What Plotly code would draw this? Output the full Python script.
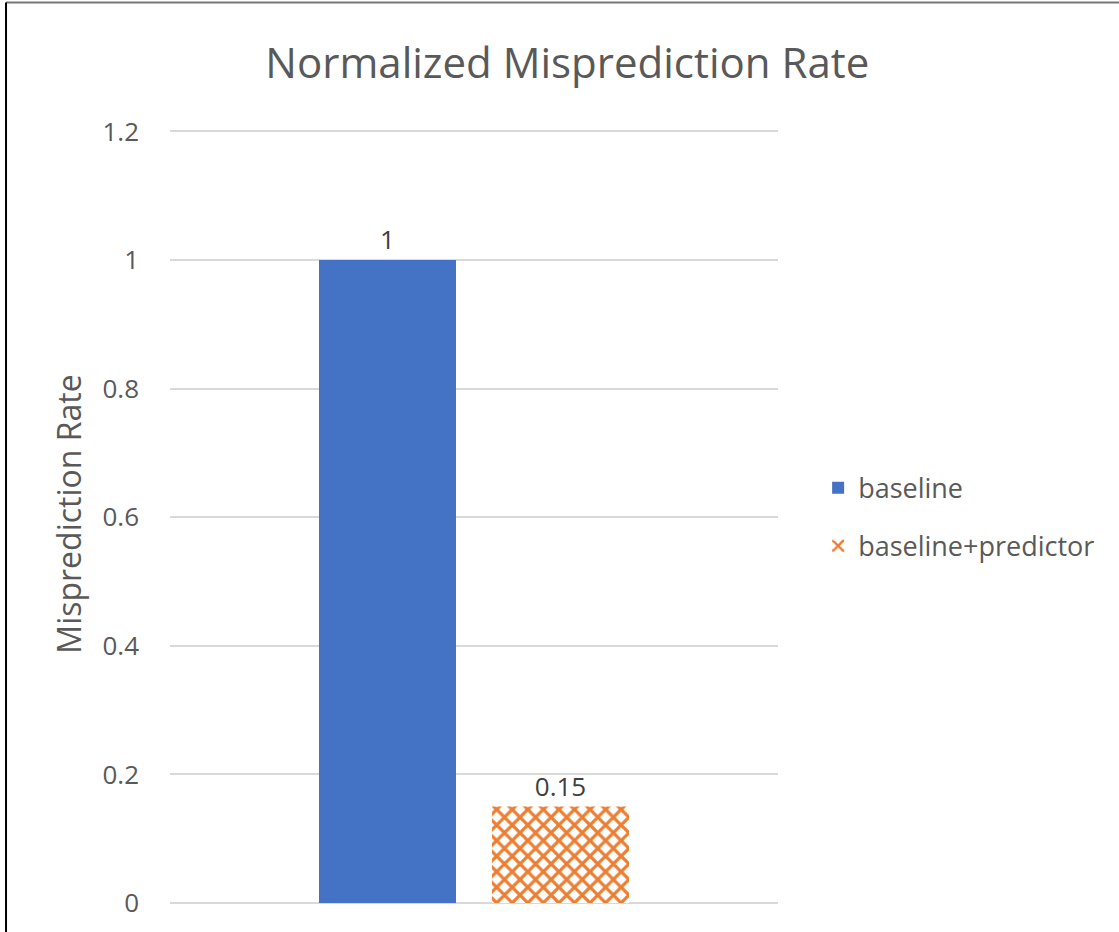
import plotly.graph_objects as go

categories = [""]
series_names = ["baseline", "baseline+predictor"]
baseline_values = [1.0]
predictor_values = [0.15]
tick_values = [0, 0.2, 0.4, 0.6, 0.8, 1.0, 1.2]
tick_labels = ["0", "0.2", "0.4", "0.6", "0.8", "1", "1.2"]

FONT = "Open Sans"
GREY = "#595959"

fig = go.Figure()
fig.add_trace(go.Bar(
    x=categories, y=baseline_values, name=series_names[0], legendgroup="a",
    marker=dict(color="#4472C4", line=dict(width=0)),
    text=["1"], textposition="outside", cliponaxis=False,
    textfont=dict(family=FONT, size=26, color="#404040"),
))
fig.add_trace(go.Bar(
    x=categories, y=predictor_values, name=series_names[1], legendgroup="b",
    marker=dict(color="white", line=dict(width=0),
                pattern=dict(shape="x", fgcolor="#ED7D31", bgcolor="white",
                             fgopacity=1, size=11, solidity=0.5, fillmode="replace")),
    text=["0.15"], textposition="outside", cliponaxis=False,
    textfont=dict(family=FONT, size=26, color="#404040"),
))

fig.update_layout(
    width=1119, height=932,
    paper_bgcolor="white", plot_bgcolor="white",
    margin=dict(l=170, r=341, t=125, b=29),
    barmode="group", bargap=0.431, bargroupgap=0.208,
    title=dict(text="Normalized Misprediction Rate", x=0.507, xref="container",
               xanchor="center", y=0.932, yref="container", yanchor="middle",
               font=dict(family=FONT, size=42, color=GREY)),
    font=dict(family=FONT, color=GREY),
    xaxis=dict(showticklabels=False, showgrid=False, zeroline=False, showline=False),
    yaxis=dict(range=[0, 1.21], tickvals=tick_values, ticktext=tick_labels,
               showgrid=True, gridcolor="#d9d9d9", gridwidth=2,
               zeroline=True, zerolinecolor="#d9d9d9", zerolinewidth=2,
               showline=False, ticks="", ticklabelstandoff=30,
               tickfont=dict(family=FONT, size=26, color=GREY),
               title=dict(text="Misprediction Rate", standoff=11,
                          font=dict(family=FONT, size=32, color=GREY))),
    legend=dict(x=1.066, y=0.496, xanchor="left", yanchor="middle",
                font=dict(family=FONT, size=27, color=GREY),
                bgcolor="rgba(0,0,0,0)", tracegroupgap=20, traceorder="grouped"),
    showlegend=True,
    shapes=[
        dict(type="line", xref="paper", yref="paper", x0=-0.2697, x1=1.6, y0=1.1575, y1=1.1575,
             line=dict(color="#777777", width=2)),
        dict(type="line", xref="paper", yref="paper", x0=-0.2697, x1=-0.2697, y0=-0.05, y1=1.1575,
             line=dict(color="black", width=2)),
    ],
)

fig.write_html("out.html", config={"displayModeBar": False},
               post_script="document.body.style.margin='0';")
